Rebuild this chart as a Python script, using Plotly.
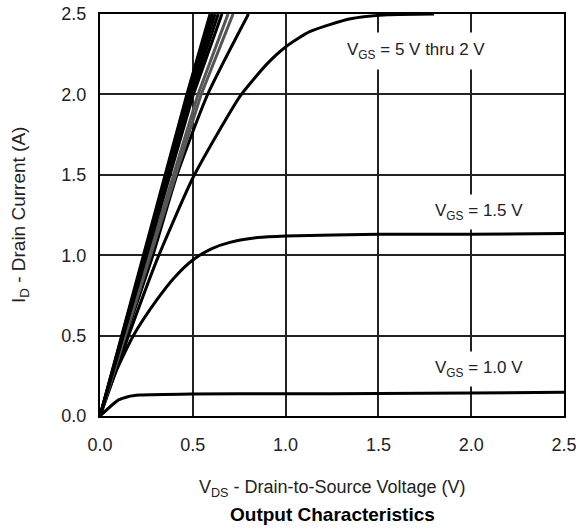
import plotly.graph_objects as go

FONT = "Liberation Sans, Arial, Helvetica, sans-serif"

# Axis ticks
x_tick_vals = [0.0, 0.5, 1.0, 1.5, 2.0, 2.5]
x_tick_text = ["0.0", "0.5", "1.0", "1.5", "2.0", "2.5"]
y_tick_vals = [0.0, 0.5, 1.0, 1.5, 2.0, 2.5]
y_tick_text = ["0.0", "0.5", "1.0", "1.5", "2.0", "2.5"]

# Steep curves (VGS = 5 V ... 3 V), black
id_steep = [0.0, 2.0, 2.5]
vds_steep_1 = [0.0, 0.468, 0.593]
vds_steep_2 = [0.0, 0.476, 0.606]
vds_steep_3 = [0.0, 0.484, 0.620]
vds_steep_4 = [0.0, 0.493, 0.637]
vds_steep_5 = [0.0, 0.503, 0.657]

# Gray curves
vds_gray_1 = [0.0, 0.528, 0.690]
vds_gray_2 = [0.0, 0.545, 0.717]

# VGS = 2.5 V
vds_25 = [0.0, 0.140, 0.285, 0.415, 0.580, 0.800]
id_25 = [0.0, 0.50, 1.00, 1.50, 2.00, 2.50]

# VGS = 2 V
vds_20 = [0.0, 0.16, 0.31, 0.50, 0.65, 0.755, 0.90, 1.00, 1.13, 1.35, 1.55, 1.80]
id_20 = [0.0, 0.52, 0.98, 1.48, 1.79, 1.99, 2.19, 2.295, 2.39, 2.47, 2.495, 2.50]

# VGS = 1.5 V
vds_15 = [0.0, 0.08, 0.18, 0.305, 0.40, 0.50, 0.60, 0.70, 0.85, 1.0, 1.5, 2.0, 2.5]
id_15 = [0.0, 0.26, 0.50, 0.72, 0.86, 0.97, 1.04, 1.08, 1.11, 1.12, 1.13, 1.13, 1.135]

# VGS = 1.0 V
vds_10 = [0.0, 0.10, 0.15, 0.215, 0.49, 1.0, 1.5, 2.0, 2.5]
id_10 = [0.0, 0.10, 0.12, 0.13, 0.137, 0.138, 0.14, 0.143, 0.148]

fig = go.Figure()

def add(x, y, color="black", shape="spline"):
    line = dict(color=color, width=3, shape=shape)
    if shape == "spline":
        line["smoothing"] = 0.6
    fig.add_trace(go.Scatter(x=x, y=y, mode="lines", line=line,
                             hoverinfo="skip", showlegend=False))

add(vds_10, id_10)
add(vds_15, id_15)
add(vds_20, id_20)
add(vds_25, id_25)
add(vds_gray_2, id_steep, "#555555", "linear")
add(vds_gray_1, id_steep, "#555555", "linear")
for v in [vds_steep_5, vds_steep_4, vds_steep_3, vds_steep_2, vds_steep_1]:
    add(v, id_steep, "black", "linear")

fig.update_xaxes(
    range=[0, 2.5], tickmode="array", tickvals=x_tick_vals, ticktext=x_tick_text,
    showgrid=True, gridcolor="#222222", gridwidth=1.5,
    showline=True, linecolor="black", linewidth=2, mirror=True,
    ticks="outside", ticklen=11, tickcolor="rgba(0,0,0,0)",
    zeroline=False, automargin=False, ticklabeloverflow="allow",
    tickfont=dict(family=FONT, size=18, color="#222222"),
)
fig.update_yaxes(
    range=[0, 2.5], tickmode="array", tickvals=y_tick_vals, ticktext=y_tick_text,
    showgrid=True, gridcolor="#222222", gridwidth=1.5,
    showline=True, linecolor="black", linewidth=2, mirror=True,
    ticks="outside", ticklen=8, tickcolor="rgba(0,0,0,0)",
    zeroline=False, automargin=False, ticklabeloverflow="allow",
    tickfont=dict(family=FONT, size=18, color="#222222"),
)

ann_font = dict(family=FONT, size=17, color="#222222")
fig.add_annotation(x=1.70, y=2.27, text="V<sub>GS</sub> = 5 V thru 2 V",
                   showarrow=False, bgcolor="white", borderpad=7, font=ann_font)
fig.add_annotation(x=2.04, y=1.27, text="V<sub>GS</sub> = 1.5 V",
                   showarrow=False, bgcolor="white", borderpad=6, font=ann_font)
fig.add_annotation(x=2.04, y=0.29, text="V<sub>GS</sub> = 1.0 V",
                   showarrow=False, bgcolor="white", borderpad=6, font=ann_font)

# Axis titles and chart title
fig.add_annotation(xref="paper", yref="paper", x=(20 - 100) / 464, y=0.5,
                   text="I<sub>D</sub> - Drain Current (A)", textangle=-90,
                   showarrow=False, font=dict(family=FONT, size=19, color="#222222"),
                   xanchor="center", yanchor="middle")
fig.add_annotation(xref="paper", yref="paper", x=0.5, y=(416 - 488) / 402,
                   text="V<sub>DS</sub> - Drain-to-Source Voltage (V)",
                   showarrow=False, font=dict(family=FONT, size=18, color="#222222"),
                   xanchor="center", yanchor="middle")
fig.add_annotation(xref="paper", yref="paper", x=0.5, y=(416 - 514) / 402,
                   text="<b>Output Characteristics</b>",
                   showarrow=False, font=dict(family=FONT, size=19, color="black"),
                   xanchor="center", yanchor="middle")

fig.update_layout(
    width=576, height=531,
    margin=dict(l=100, r=12, t=14, b=115),
    plot_bgcolor="white", paper_bgcolor="white",
)

fig.write_html("out.html")
